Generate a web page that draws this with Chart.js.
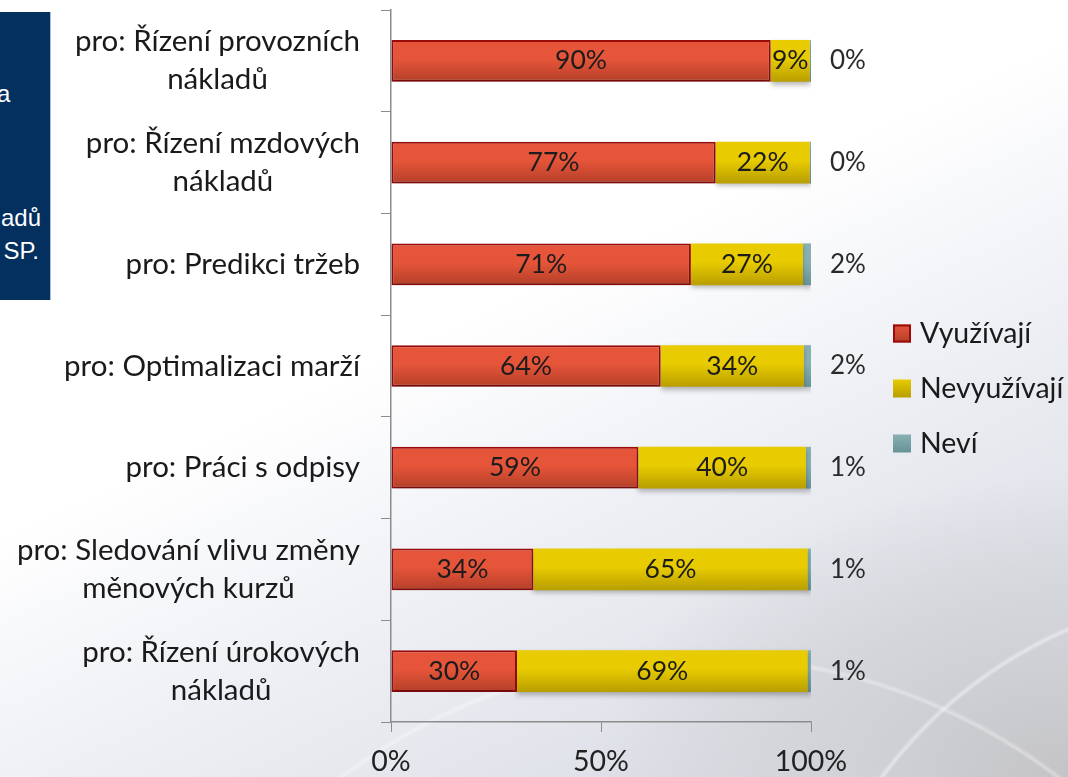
<!DOCTYPE html>
<html lang="cs">
<head>
<meta charset="utf-8">
<title>Využití</title>
<script src="https://cdn.jsdelivr.net/npm/chart.js@4/dist/chart.umd.min.js"></script>
<style>
    html, body { margin: 0; padding: 0; }
    body {
        width: 1068px; height: 777px; overflow: hidden; position: relative;
        background:
            radial-gradient(circle at 1250px 1050px, rgba(255,255,255,0) 455px, rgba(255,255,255,0.45) 458px, rgba(255,255,255,0) 462px),
            radial-gradient(circle at 700px 1250px, rgba(255,255,255,0) 590px, rgba(255,255,255,0.35) 593px, rgba(255,255,255,0) 597px),
            radial-gradient(ellipse 480px 300px at 1068px 777px, #c4c4c6 0%, #d0d2d7 45%, rgba(214,217,224,0) 100%),
            linear-gradient(155deg, #ffffff 0%, #ffffff 42%, #eef0f5 62%, #dfe2e8 82%, #d4d7de 100%);
    }
    #side {
        position: absolute; left: 0; top: 12px; width: 50px; height: 288px;
        background: #03305f; border-right: 1px solid #a9bfdc; overflow: hidden;
        color: #fff; font: 24px "Liberation Sans", Arial, sans-serif;
    }
    #side span { position: absolute; white-space: nowrap; }
    #chart { position: absolute; left: 0; top: 0; }
</style>
</head>
<body>
<div id="side">
    <span style="left:-3px; top:68px;">a</span>
    <span style="right:9px; top:192px;">adů</span>
    <span style="right:11px; top:225px;">SP.</span>
</div>
<canvas id="chart" width="1068" height="777"></canvas>
<script>
const categories = [
    ['pro: Řízení provozních', 'nákladů'],
    ['pro: Řízení mzdových', 'nákladů'],
    ['pro: Predikci tržeb'],
    ['pro: Optimalizaci marží'],
    ['pro: Práci s odpisy'],
    ['pro: Sledování vlivu změny', 'měnových kurzů'],
    ['pro: Řízení úrokových', 'nákladů']
];
const seriesNames = ['Využívají', 'Nevyužívají', 'Neví'];
const vyuzivaji   = [90.4, 77.3, 71.4, 64.2, 58.9, 33.9, 30.0];
const nevyuzivaji = [9.3, 22.4, 26.7, 34.1, 39.9, 65.3, 69.2];
const nevi        = [0.3, 0.3, 1.9, 1.7, 1.2, 0.8, 0.8];
const xTicks = [0, 50, 100];

const FONT = 'Lato, "Open Sans", sans-serif';
const BAR_PCT = 0.41;

// top / bottom / border colour of each series
const shades = [
    ['#e6553a', '#b43f28', '#9c0b0b'],
    ['#e8cb00', '#b89e00', null],
    ['#88b0b2', '#679296', null]
];

function barFill(si) {
    return ctx => {
        const chart = ctx.chart;
        const y = chart.scales.y;
        if (!chart.chartArea || !y || ctx.dataIndex === undefined) return shades[si][0];
        const c = y.getPixelForValue(ctx.dataIndex);
        const h = y.height / categories.length * BAR_PCT;
        const g = chart.ctx.createLinearGradient(0, c - h / 2, 0, c + h / 2);
        g.addColorStop(0, shades[si][0]);
        g.addColorStop(0.45, shades[si][0]);
        g.addColorStop(1, shades[si][1]);
        return g;
    };
}

const textPlugin = {
    id: 'texts',
    beforeDatasetsDraw(chart) {
        const ctx = chart.ctx;
        ctx.save();
        ctx.shadowColor = 'rgba(0,0,0,0.28)';
        ctx.shadowBlur = 5;
        ctx.shadowOffsetY = 3;
    },
    afterDatasetsDraw(chart) {
        const ctx = chart.ctx;
        ctx.restore();
        ctx.save();
        const area = chart.chartArea;
        ctx.textBaseline = 'middle';

        // values
        chart.data.datasets.forEach((ds, di) => {
            chart.getDatasetMeta(di).data.forEach((bar, i) => {
                const txt = Math.round(ds.data[i]) + '%';
                if (di < 2) {
                    ctx.font = '26.5px ' + FONT;
                    ctx.fillStyle = '#1c1c1c';
                    ctx.textAlign = 'center';
                    ctx.fillText(txt, (bar.base + bar.x) / 2, bar.y);
                } else {
                    ctx.font = '26px ' + FONT;
                    ctx.fillStyle = '#2a2a2a';
                    ctx.textAlign = 'left';
                    ctx.fillText(txt, area.right + 19, bar.y);
                }
            });
        });

        // category labels: block right-aligned, lines centred in the block
        ctx.font = '29.5px ' + FONT;
        ctx.fillStyle = '#1a1a1a';
        ctx.textAlign = 'center';
        const right = area.left - 31;
        categories.forEach((lines, i) => {
            const cy = chart.scales.y.getPixelForValue(i);
            const w = Math.max(...lines.map(l => ctx.measureText(l).width));
            const cx = right - w / 2;
            lines.forEach((l, k) => {
                ctx.fillText(l, cx, cy + (k - (lines.length - 1) / 2) * 38);
            });
        });

        // legend
        ctx.font = '28.5px ' + FONT;
        const lx = area.right + 82;
        const midY = chart.height / 2;
        ctx.textAlign = 'left';
        chart.data.datasets.forEach((ds, di) => {
            const y = midY + (di - 1) * 55;
            const g = ctx.createLinearGradient(0, y - 9, 0, y + 9);
            g.addColorStop(0, shades[di][0]);
            g.addColorStop(1, shades[di][1]);
            ctx.fillStyle = g;
            ctx.fillRect(lx, y - 9, 18, 18);
            if (shades[di][2]) {
                ctx.strokeStyle = shades[di][2];
                ctx.lineWidth = 2;
                ctx.strokeRect(lx + 1, y - 8, 16, 16);
            }
            ctx.fillStyle = '#1a1a1a';
            ctx.fillText(ds.label, lx + 27, y);
        });
        ctx.restore();
    }
};

new Chart(document.getElementById('chart'), {
    type: 'bar',
    data: {
        labels: categories,
        datasets: [
            { label: seriesNames[0], data: vyuzivaji, backgroundColor: barFill(0),
              borderColor: shades[0][2], borderWidth: 2, borderSkipped: false },
            { label: seriesNames[1], data: nevyuzivaji, backgroundColor: barFill(1), borderWidth: 0 },
            { label: seriesNames[2], data: nevi, backgroundColor: barFill(2), borderWidth: 0 }
        ]
    },
    options: {
        indexAxis: 'y',
        responsive: false,
        animation: false,
        layout: { padding: { top: 10, right: 257, bottom: 0, left: 0 } },
        datasets: { bar: { categoryPercentage: 1, barPercentage: BAR_PCT } },
        scales: {
            x: {
                stacked: true, min: 0, max: 100,
                afterBuildTicks: s => { s.ticks = xTicks.map(v => ({ value: v })); },
                afterFit: s => { s.height = 55; },
                ticks: { callback: v => v + '%', color: '#222', padding: 13,
                         font: { family: FONT, size: 28.5 }, maxRotation: 0 },
                grid: { drawOnChartArea: false, tickLength: 10, color: '#8c8c8c' },
                border: { color: '#8c8c8c', width: 1.5 }
            },
            y: {
                stacked: true,
                afterFit: s => { s.width = 391; },
                ticks: { display: false },
                grid: { drawOnChartArea: false, tickLength: 10, offset: true, color: '#8c8c8c' },
                border: { color: '#8c8c8c', width: 1.5 }
            }
        },
        plugins: { legend: { display: false }, tooltip: { enabled: false } }
    },
    plugins: [textPlugin]
});
</script>
</body>
</html>
